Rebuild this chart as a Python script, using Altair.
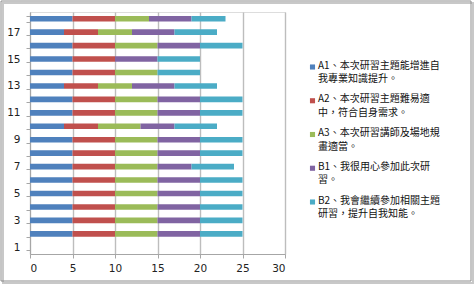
import altair as alt
import pandas as pd

questions = list(range(1, 19))
series_labels = [
    "A1、本次研習主題能增進自|我專業知識提升。",
    "A2、本次研習主題難易適|中，符合自身需求。",
    "A3、本次研習講師及場地規|畫適當。",
    "B1、我很用心參加此次研|習。",
    "B2、我會繼續參加相關主題|研習，提升自我知能。",
]
colors = ["#4F81BD", "#C0504D", "#9BBB59", "#8064A2", "#4BACC6"]

# values for questions 1..18 (question 1 has no data)
a1 = [0, 5, 5, 5, 5, 5, 5, 5, 5, 4, 5, 5, 4, 5, 5, 5, 4, 5]
a2 = [0, 5, 5, 5, 5, 5, 5, 5, 5, 4, 5, 5, 4, 5, 5, 5, 4, 5]
a3 = [0, 5, 5, 5, 5, 5, 5, 5, 5, 5, 5, 5, 4, 5, 0, 5, 4, 4]
b1 = [0, 5, 5, 5, 5, 5, 4, 5, 5, 4, 5, 5, 5, 0, 5, 5, 5, 5]
b2 = [0, 5, 5, 5, 5, 5, 5, 5, 5, 5, 5, 5, 5, 5, 5, 5, 5, 4]

rows = []
for s_i, (lab, vals) in enumerate(zip(series_labels, [a1, a2, a3, b1, b2])):
    for q, v in zip(questions, vals):
        if v > 0:
            rows.append({"q": q, "series": lab, "order": s_i, "value": v})
df = pd.DataFrame(rows)
leg_df = pd.DataFrame({"idx": list(range(len(series_labels))), "series": series_labels})

font = "Noto Sans CJK TC"
color_scale = alt.Scale(domain=series_labels, range=colors)

bars = alt.Chart(df).mark_bar(size=5.6).encode(
    x=alt.X("value:Q", stack="zero",
            scale=alt.Scale(domain=[0, 30], nice=False),
            axis=alt.Axis(values=[0, 5, 10, 15, 20, 25, 30], title=None,
                          grid=True, gridColor="#bdbdbd", gridWidth=1.4,
                          domainColor="#a6a6a6", tickColor="#a6a6a6",
                          tickSize=4, labelPadding=5, labelFontSize=10.5,
                          labelFont="DejaVu Sans", labelColor="#222222")),
    y=alt.Y("q:O", sort="descending",
            scale=alt.Scale(domain=list(range(18, 0, -1)), paddingInner=0.58, paddingOuter=0.29),
            axis=alt.Axis(title=None, tickBand="extent", tickSize=4,
                          labelExpr="datum.value % 2 == 1 ? datum.label : ''",
                          domainColor="#a6a6a6", tickColor="#a6a6a6",
                          labelPadding=6, labelFontSize=10.5,
                          labelFont="DejaVu Sans", labelColor="#222222")),
    color=alt.Color("series:N", scale=color_scale, legend=None),
    order=alt.Order("order:Q"),
)

leg_y = alt.Y("idx:O", scale=alt.Scale(type="point", domain=list(range(5)), range=[55, 190], padding=0), axis=None)

leg_sq = alt.Chart(leg_df).mark_square(size=26, opacity=1, clip=False).encode(
    x=alt.value(282.5), y=leg_y,
    color=alt.Color("series:N", scale=color_scale, legend=None),
)
leg_tx = alt.Chart(leg_df).mark_text(
    align="left", baseline="top", dy=-6.5, font=font, fontSize=10,
    lineBreak="|", lineHeight=13.5, color="#111111", clip=False
).encode(x=alt.value(288), y=leg_y, text="series:N")

frame = alt.Chart(pd.DataFrame({"k": [0]})).mark_rect(
    fill=None, stroke="#8c8c8c", strokeWidth=1, clip=False
).encode(x=alt.value(-29), x2=alt.value(441), y=alt.value(-11), y2=alt.value(269))
shadow = alt.Chart(pd.DataFrame({"k": [0]})).mark_rect(
    fill=None, stroke="#c8c8c8", strokeWidth=2, clip=False
).encode(x=alt.value(-27), x2=alt.value(443), y=alt.value(-9), y2=alt.value(271))

chart = alt.layer(shadow, frame, bars, leg_sq, leg_tx).resolve_scale(y="independent").properties(
    width=255, height=242,
    autosize=alt.AutoSizeParams(type="none"),
    padding={"left": 30, "top": 12, "right": 189, "bottom": 34},
).configure_view(stroke=None).configure(background="white")

chart.save("out.html", embed_options={"renderer": "svg", "actions": False})
